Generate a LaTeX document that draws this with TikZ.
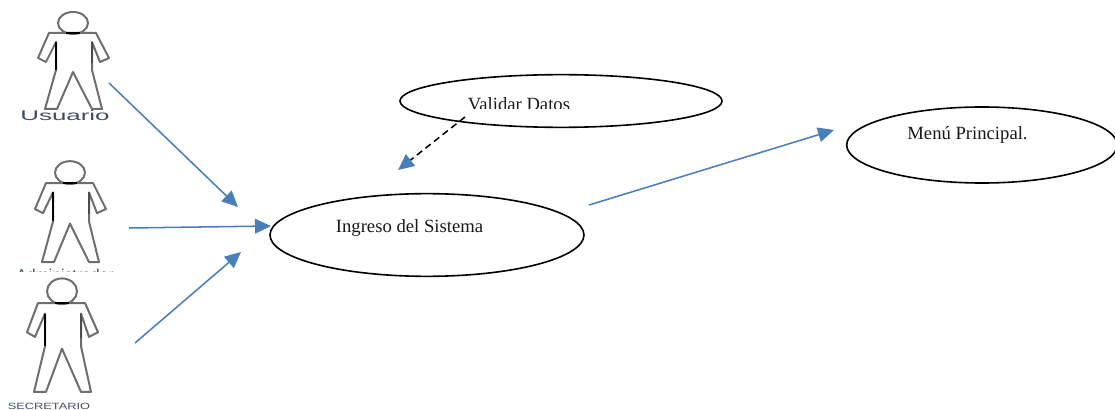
\documentclass[tikz,border=0pt]{standalone}
\usepackage{fontspec}
\setmainfont{Liberation Serif}
\newfontfamily\labelfont{Liberation Sans}
\usetikzlibrary{arrows.meta,shapes.geometric}
\definecolor{linkblue}{HTML}{4A7EBB}
\definecolor{actorgray}{HTML}{6E6E6E}
\definecolor{actorlabel}{HTML}{3E4E62}
\tikzset{
  usecase/.style={draw=black,line width=1.2pt,ellipse,inner sep=0pt,fill=none},
  usetext/.style={font=\fontsize{14pt}{16pt}\selectfont,inner sep=0pt,text=black!90,anchor=base},
  actorline/.style={draw=actorgray,line width=1.5pt,line join=round},
  actorname/.style={text=actorlabel,inner sep=0pt,anchor=base},
  link/.style={draw=linkblue,line width=1.15pt,-{Triangle[length=12pt,width=11pt,fill=linkblue]}},
  include/.style={draw=black,line width=1.15pt,dashed,dash pattern=on 5pt off 3.2pt,
    -{Triangle[length=12pt,width=11pt,fill=linkblue,color=linkblue]}},
  pics/actor/.style={code={
    \draw[actorline] (0,-10) ellipse [x radius=15,y radius=11];
    \draw[actorline] (-13,0) -- (-24,0) -- (-35,25) -- (-27,29) -- (-17,9) -- (-17,37)
      -- (-28,76) -- (-16,76) -- (0,39) -- (19,76) -- (29,76) -- (19,37) -- (19,9)
      -- (27,29) -- (36,25) -- (23,0) -- cycle;
    \draw[black,line width=1.3pt] (-17,9) -- (-17,37);
    \draw[black!70,line width=1.5pt] (19,9) -- (19,30);
    \draw[black,line width=1.3pt] (-7,0) -- (7,0);
  }}
}
\begin{document}
\begin{tikzpicture}[x=0.75pt,y=-0.75pt]
\useasboundingbox (0,0) rectangle (1115,410);
\clip (0,0) rectangle (1115,410);

% actors
\pic at (73,33) {actor};
\pic at (70,183) [yscale=1.04] {actor};
\pic at (62,303) [yscale=1.17] {actor};

\node[actorname,font=\labelfont\fontsize{10.5pt}{12pt}\selectfont] (usuario) at (65,120.5) {\scalebox{1.85}[1]{Usuario}};
\begin{scope}
  \clip (0,267) rectangle (130,271);
  \node[actorname,font=\labelfont\fontsize{11.8pt}{14pt}\selectfont] (admin) at (65,280.5) {Administrador};
\end{scope}
\node[actorname,font=\labelfont\fontsize{6.8pt}{8pt}\selectfont] (secretario) at (49,409) {\scalebox{1.41}[1]{SECRETARIO}};

% use cases
\node[usecase,minimum width=235.5pt,minimum height=62pt] (ingreso) at (427,235) {};
\node[usecase,minimum width=241.5pt,minimum height=39.5pt] (validar) at (561,101) {};
\node[usecase,minimum width=203pt,minimum height=57pt] (menu) at (982,145) {};

\node[usetext] (ingresotxt) at (409.5,233) {Ingreso del Sistema};
\node[usetext] (menutxt) at (967.5,140) {Menú Principal.};
\begin{scope}
  \clip (440,90) rectangle (600,109);
  \node[usetext] (validartxt) at (519,110.5) {Validar Datos};
\end{scope}

% connector free ends
\coordinate (a1) at (109,83);
\coordinate (a1e) at (238,207);
\coordinate (a2) at (129,228);
\coordinate (a2e) at (271,226);
\coordinate (a3) at (135,343);
\coordinate (a3e) at (241,252);
\coordinate (m1) at (589,205);
\coordinate (m1e) at (834,130);
\coordinate (d1) at (465,117);
\coordinate (d1e) at (398,170);

\draw[link] (a1) -- (a1e);
\draw[link] (a2) -- (a2e);
\draw[link] (a3) -- (a3e);
\draw[link] (m1) -- (m1e);
\draw[include] (d1) -- (d1e);
\end{tikzpicture}
\end{document}
